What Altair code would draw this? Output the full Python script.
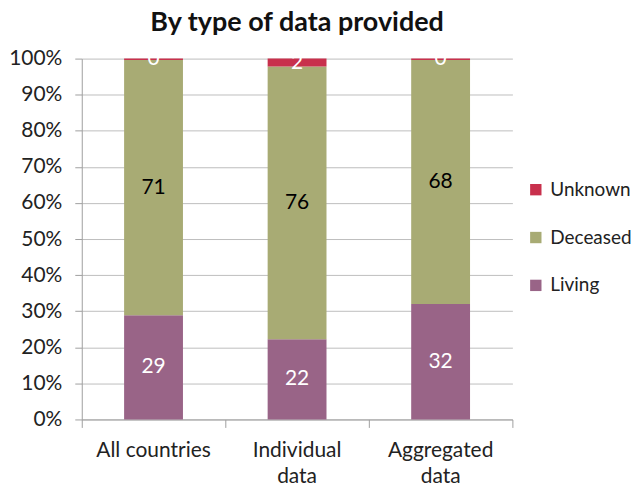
import altair as alt
import pandas as pd

categories = ["All countries", "Individual|data", "Aggregated|data"]
statuses = ["Living", "Deceased", "Unknown"]
living = [28.9, 22.2, 32.0]
deceased = [70.7, 75.6, 67.6]
unknown = [0.4, 2.2, 0.4]
labels_living = ["29", "22", "32"]
labels_deceased = ["71", "76", "68"]
labels_unknown = ["0", "2", "0"]
colors = {"Unknown": "#C8304C", "Deceased": "#A8AB74", "Living": "#996487"}
text_colors = {"Living": "white", "Deceased": "black", "Unknown": "white"}

rows = []
for i, c in enumerate(categories):
    for j, (s, vals, labs) in enumerate(zip(statuses, [living, deceased, unknown],
                                             [labels_living, labels_deceased, labels_unknown])):
        rows.append({"cat": c, "status": s, "value": vals[i], "label": labs[i], "ord": j,
                     "tcolor": text_colors[s]})
df = pd.DataFrame(rows)

FONT = "Lato"
legend_order = ["Unknown", "Deceased", "Living"]

x_axis = alt.Axis(labelAngle=0, labelExpr="split(datum.label, '|')",
                  bandPosition=1, tickExtra=True, tickSize=8, tickColor="#A0A0A0",
                  domainColor="#A0A0A0", labelFontSize=21, labelColor="#222222",
                  labelFont=FONT, labelPadding=12, labelLineHeight=26, grid=False)
x_scale = alt.Scale(paddingInner=0, paddingOuter=0)
y_axis = alt.Axis(values=list(range(0, 101, 10)), labelExpr="datum.value + '%'",
                  labelOverlap=False, grid=True,
                  tickSize=7, tickColor="#A0A0A0", domainColor="#A0A0A0",
                  gridColor="#BEBEBE", labelFontSize=21, labelColor="#222222",
                  labelFont=FONT, labelPadding=13)
y_scale = alt.Scale(domain=[0, 100], nice=False)

base = alt.Chart(df).transform_stack(
    stack="value", groupby=["cat"], as_=["y0", "y1"],
    sort=[alt.SortField("ord", order="ascending")]
).transform_calculate(mid="(datum.y0 + datum.y1) / 2")

bars = base.mark_bar(width=alt.RelativeBandSize(0.41)).encode(
    x=alt.X("cat:N", sort=categories, title=None, scale=x_scale, axis=x_axis),
    y=alt.Y("y0:Q", title=None, scale=y_scale, axis=y_axis),
    y2="y1:Q",
    color=alt.Color("status:N", title=None,
                    scale=alt.Scale(domain=legend_order,
                                    range=[colors[s] for s in legend_order]),
                    legend=alt.Legend(orient="none", legendX=446, legendY=122,
                                      symbolType="square", symbolSize=130,
                                      symbolStrokeWidth=0, labelFontSize=19,
                                      labelFont=FONT, labelColor="#222222",
                                      rowPadding=28, labelOffset=5)),
)

texts = base.mark_text(fontSize=21, font=FONT, baseline="middle").encode(
    x=alt.X("cat:N", sort=categories, title=None, scale=x_scale, axis=x_axis),
    y=alt.Y("mid:Q", title=None, scale=y_scale, axis=y_axis),
    text="label:N",
    color=alt.Color("tcolor:N", scale=None),
)

chart = alt.layer(bars, texts).properties(
    width=432, height=362,
    padding={"left": 0, "top": 0, "right": 0, "bottom": 0},
    title=alt.TitleParams("By type of data provided", fontSize=27, font=FONT,
                          fontWeight="bold", color="#111111", offset=11, anchor="middle"),
).configure_view(stroke=None)

chart.save("out.html", embed_options={"renderer": "svg", "actions": False})
